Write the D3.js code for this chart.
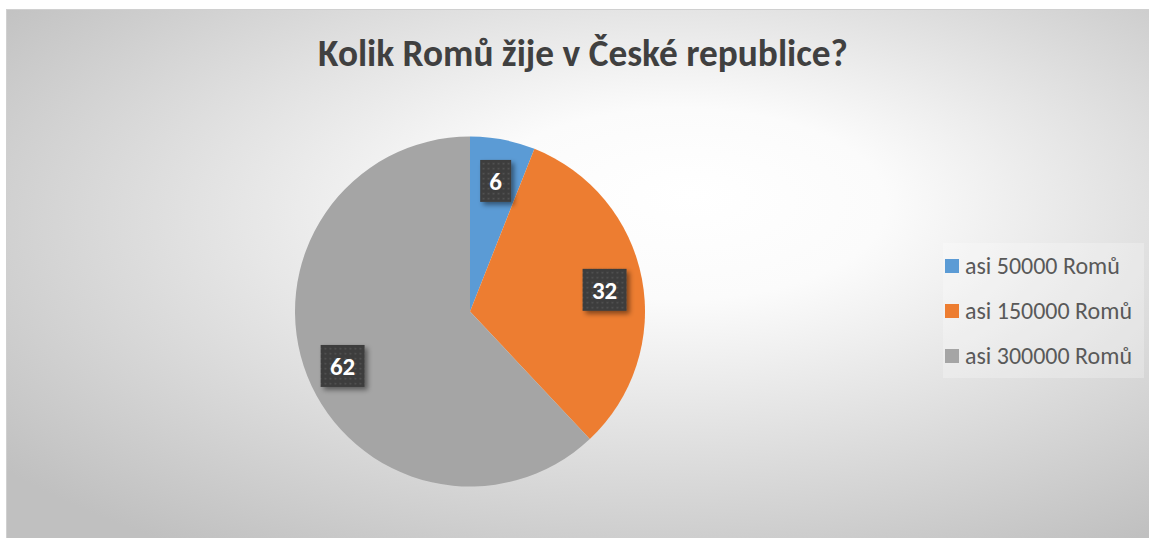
<!DOCTYPE html>
<html><head><meta charset="utf-8">
<script src="https://cdn.jsdelivr.net/npm/d3@7"></script>
<style>html,body{margin:0;padding:0;background:#fff;overflow:hidden}</style>
</head><body>
<script>
const title = "Kolik Romů žije v České republice?";
const categories = ["asi 50000 Romů", "asi 150000 Romů", "asi 300000 Romů"];
const values = [6, 32, 62];
const colors = ["#5b9bd5", "#ed7d31", "#a5a5a5"];

const W = 1149, H = 538;
const svg = d3.select("body").append("svg").attr("width", W).attr("height", H);
const defs = svg.append("defs");

const grad = defs.append("radialGradient").attr("id", "bg")
  .attr("cx", 0.56).attr("cy", 0.42).attr("r", 0.72).attr("fx", 0.6).attr("fy", 0.35);
grad.append("stop").attr("offset", 0).attr("stop-color", "#ffffff");
grad.append("stop").attr("offset", 0.25).attr("stop-color", "#fbfbfb");
grad.append("stop").attr("offset", 1).attr("stop-color", "#c0c0c0");

const pat = defs.append("pattern").attr("id", "dots").attr("patternUnits", "userSpaceOnUse")
  .attr("width", 5).attr("height", 5);
pat.append("rect").attr("width", 5).attr("height", 5).attr("fill", "#3e3e3e");
pat.append("rect").attr("x", 2).attr("y", 2).attr("width", 1.5).attr("height", 1.5).attr("fill", "#555555");

const sh = defs.append("filter").attr("id", "shadow").attr("x", "-30%").attr("y", "-30%").attr("width", "170%").attr("height", "170%");
sh.append("feDropShadow").attr("dx", 3).attr("dy", 3).attr("stdDeviation", 2.5)
  .attr("flood-color", "#000").attr("flood-opacity", 0.45);

svg.append("rect").attr("x", 6.5).attr("y", 9.5).attr("width", W - 6).attr("height", H - 9)
  .attr("fill", "url(#bg)").attr("stroke", "#d0d0d0");

const font = "Carlito, Calibri, Lato, 'Open Sans', sans-serif";

// title
const t = svg.append("text").attr("x", 583).attr("y", 66).attr("text-anchor", "middle")
  .attr("font-family", font).attr("font-weight", "bold").attr("font-size", 33)
  .attr("fill", "#404040").text(title);
{
  const w = t.node().getComputedTextLength();
  t.attr("font-size", 33 * 530 / w);
}

// pie
const cx = 470, cy = 311.5, R = 175;
const pie = d3.pie().sort(null).value(d => d)(values);
const arc = d3.arc().innerRadius(0).outerRadius(R);
const g = svg.append("g").attr("transform", `translate(${cx},${cy})`);
g.selectAll("path.slice").data(pie).join("path").attr("class", "slice")
  .attr("d", arc).attr("fill", (d, i) => colors[i]);

const labelArc = d3.arc().innerRadius(137).outerRadius(137);
const lg = g.selectAll("g.lbl").data(pie).join("g").attr("class", "lbl")
  .attr("transform", d => { const c = labelArc.centroid(d); return `translate(${c[0]},${c[1] + 4})`; });
lg.each(function (d) {
  const sel = d3.select(this);
  const txt = String(d.data);
  const bw = txt.length === 1 ? 31 : 44, bh = 42;
  sel.append("rect").attr("x", -bw / 2).attr("y", -bh / 2).attr("width", bw).attr("height", bh)
    .attr("fill", "url(#dots)").attr("filter", "url(#shadow)");
  sel.append("text").attr("text-anchor", "middle").attr("dy", "0.36em")
    .attr("font-family", font).attr("font-weight", "bold").attr("font-size", 25)
    .attr("fill", "#ffffff").text(txt);
});

// legend
const leg = svg.append("g");
leg.append("rect").attr("x", 943).attr("y", 243).attr("width", 201).attr("height", 135)
  .attr("fill", "#ffffff").attr("fill-opacity", 0.25);
const rows = leg.selectAll("g.row").data(categories).join("g").attr("class", "row")
  .attr("transform", (d, i) => `translate(945,${266 + i * 45})`);
rows.append("rect").attr("x", 0).attr("y", -7).attr("width", 14).attr("height", 14)
  .attr("fill", (d, i) => colors[i]);
const lt = rows.append("text").attr("x", 20).attr("dy", "0.35em")
  .attr("font-family", font).attr("font-size", 18).attr("fill", "#595959").text(d => d);
{
  const w = lt.nodes()[1].getComputedTextLength();
  lt.attr("font-size", 18 * 167 / w);
}
</script>
</body></html>
